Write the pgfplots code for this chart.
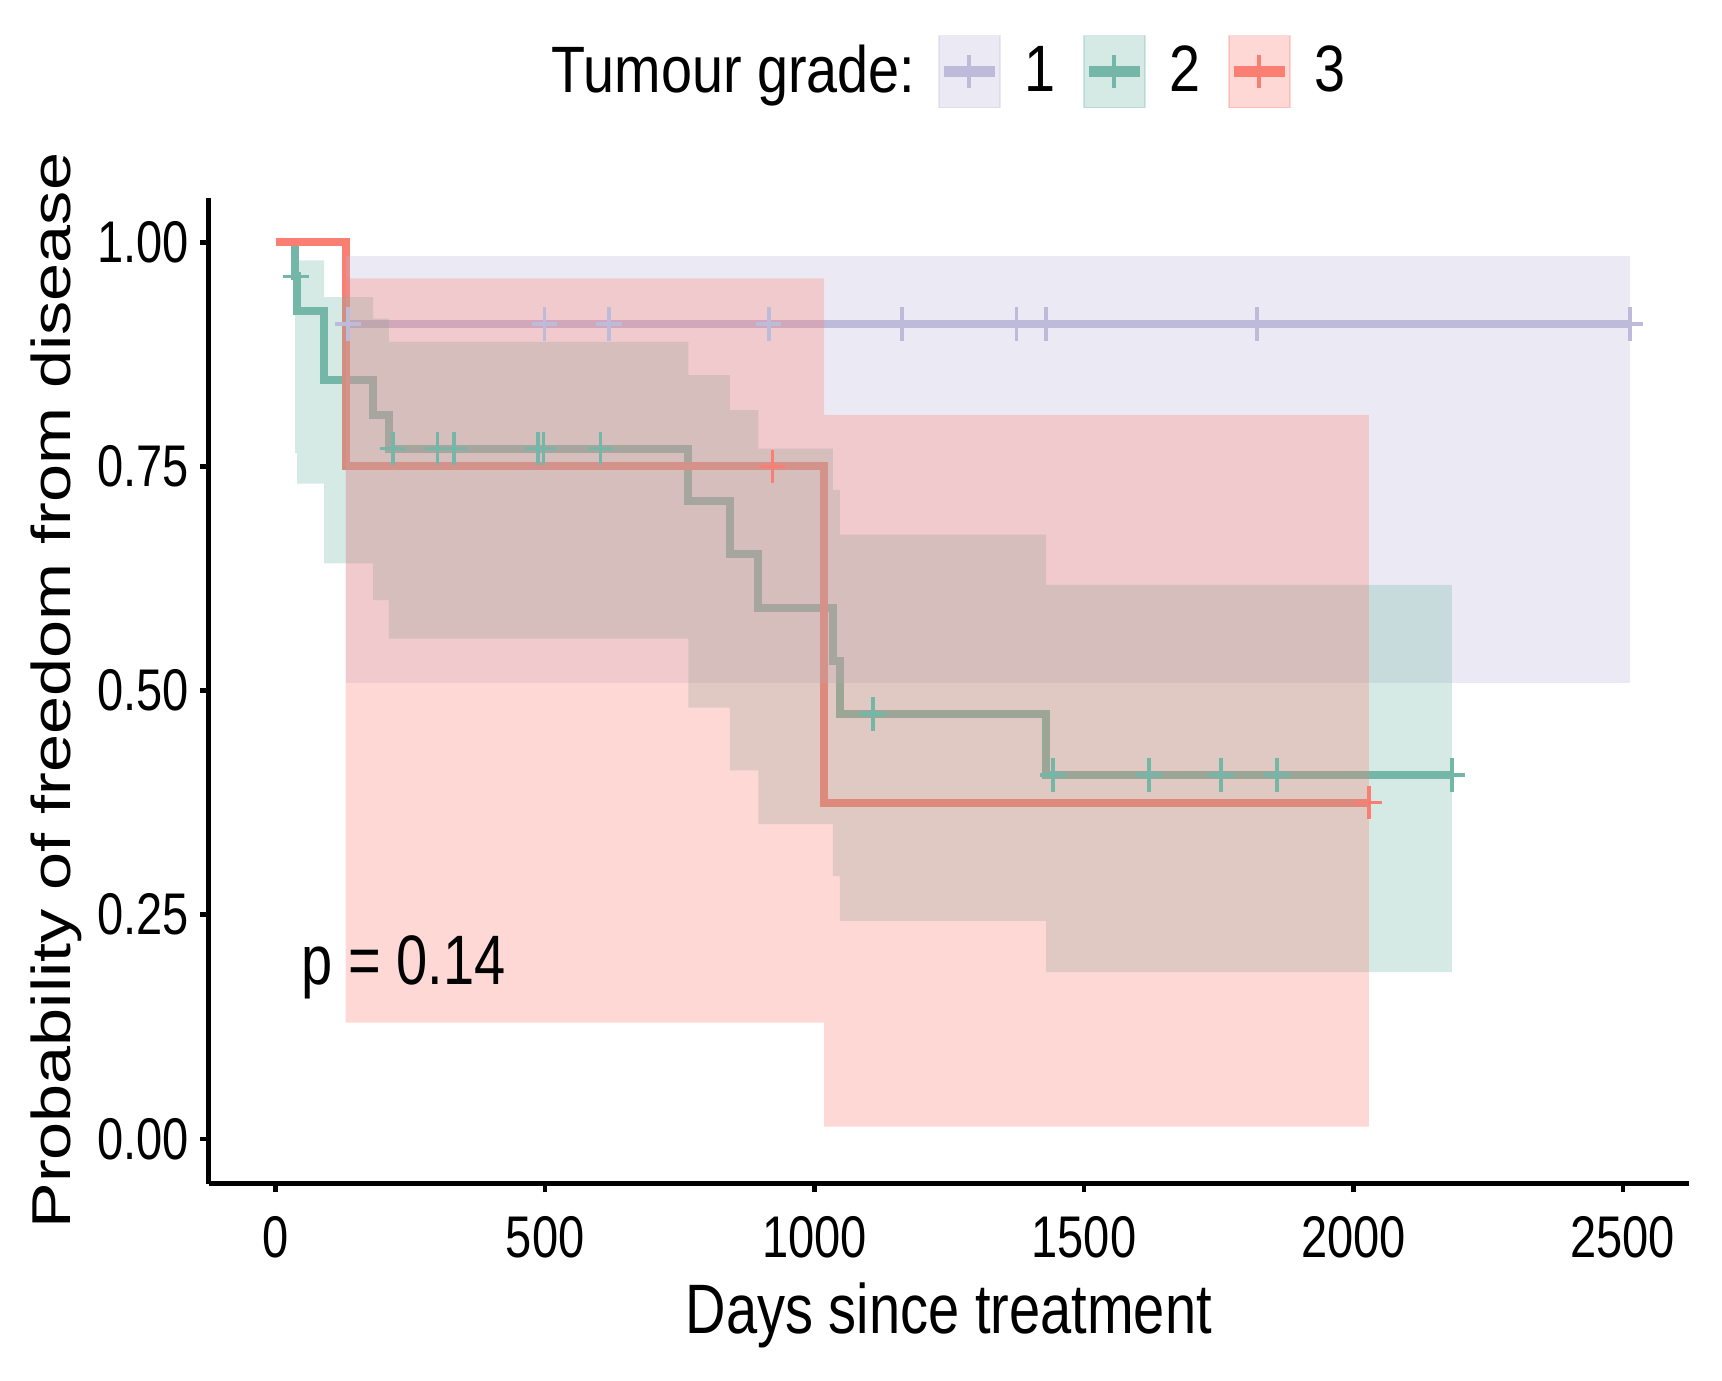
\documentclass[border=0pt]{standalone}
\usepackage{fontspec}
\setmainfont{Liberation Sans}[FakeStretch=0.8]
\newfontfamily\ylabfont{Liberation Sans}
\newfontfamily\legfont{Liberation Sans}[FakeStretch=0.85]
\usepackage{graphicx}
\usepackage{pgfplots}
\pgfplotsset{compat=1.18}

\definecolor{gone}{HTML}{BEBADA}
\definecolor{gtwo}{HTML}{74B7A8}
\definecolor{gthree}{HTML}{FA7F72}

\begin{document}
\begin{tikzpicture}
\begin{axis}[
  name=ax,
  scale only axis,
  width=370.1pt, height=246.5pt,
  xmin=-124.5, xmax=2623, ymin=-0.05, ymax=1.05,
  axis lines*=left,
  axis line style={line width=1.1pt, black},
  tick align=outside,
  major tick length=2.2pt,
  tick style={line width=1.1pt, black},
  xtick={0,500,1000,1500,2000,2500},
  xticklabels={0,500,1000,1500,2000,2500},
  ytick={0,0.25,0.5,0.75,1},
  yticklabels={0.00,0.25,0.50,0.75,1.00},
  tick label style={font=\fontsize{14.7}{16}\selectfont, inner sep=0pt},
  xticklabel style={anchor=north},
  xticklabel shift=5.9pt,
  yticklabel style={anchor=east},
  yticklabel shift=2.5pt,
  xlabel={Days since treatment},
  xlabel style={at={(axis description cs:0.5,-0.1525)}, anchor=base,
    font=\fontsize{17.5}{20}\selectfont, inner sep=0pt},
  ylabel={\ylabfont\scalebox{1}[0.8]{Probability of freedom from disease}},
  ylabel style={at={(axis description cs:-0.0936,0.5)}, anchor=base,
    font=\fontsize{17.1}{19}\selectfont, inner sep=0pt},
  legend columns=-1,
  legend cell align=left,
  legend style={at={(0.5,1)}, anchor=center, yshift=30.5pt, xshift=-3pt,
    draw=none, fill=none, inner sep=0pt,
    font=\legfont\fontsize{16.4}{18}\selectfont,
    nodes={inner sep=0pt},
    /tikz/every odd column/.append style={column sep=5.9pt},
    /tikz/every even column/.append style={column sep=6.9pt}},
]
% legend keys
\addlegendimage{empty legend}
\addlegendentry{Tumour grade:\vphantom{Tg}\hspace*{-1.3pt}}
\addlegendimage{legend image code/.code={
  \path[draw=none, fill=none] (0pt,-11.2pt) rectangle (15.3pt,9pt);
  \fill[gone, opacity=0.3] (0pt,-9pt) rectangle (15.3pt,9pt);
  \draw[gone, line width=2.6pt] (1.2pt,0pt) -- (14.1pt,0pt);
  \draw[gone, line width=1pt] (7.65pt,-4.1pt) -- (7.65pt,4.1pt);}}
\addlegendentry{1\vphantom{Tg}}
\addlegendimage{legend image code/.code={
  \path[draw=none, fill=none] (0pt,-11.2pt) rectangle (15.3pt,9pt);
  \fill[gtwo, opacity=0.3] (0pt,-9pt) rectangle (15.3pt,9pt);
  \draw[gtwo, line width=2.6pt] (1.2pt,0pt) -- (14.1pt,0pt);
  \draw[gtwo, line width=1pt] (7.65pt,-4.1pt) -- (7.65pt,4.1pt);}}
\addlegendentry{2\vphantom{Tg}}
\addlegendimage{legend image code/.code={
  \path[draw=none, fill=none] (0pt,-11.2pt) rectangle (15.3pt,9pt);
  \fill[gthree, opacity=0.3] (0pt,-9pt) rectangle (15.3pt,9pt);
  \draw[gthree, line width=2.6pt] (1.2pt,0pt) -- (14.1pt,0pt);
  \draw[gthree, line width=1pt] (7.65pt,-4.1pt) -- (7.65pt,4.1pt);}}
\addlegendentry{3\vphantom{Tg}}

% survival curves (drawn first, bands lie over them)
\addplot[gone, line width=2pt, const plot, forget plot]
  coordinates {(0,1) (131,0.909) (2513,0.909)};
\addplot[gtwo, line width=2pt, const plot, forget plot]
  coordinates {(0,1) (36,0.962) (40,0.923) (90,0.846) (181,0.808) (210,0.770)
    (766,0.712) (843,0.652) (896,0.592) (1034,0.533) (1047,0.474)
    (1430,0.406) (2183,0.406)};
\addplot[gthree, line width=2pt, const plot, forget plot]
  coordinates {(0,1) (130,0.75) (1018,0.375) (2029,0.375)};

% confidence bands
\addplot[fill=gone, fill opacity=0.3, draw=none, forget plot]
  coordinates {(131,0.985) (2513,0.985) (2513,0.508) (131,0.508)};
\addplot[fill=gtwo, fill opacity=0.3, draw=none, forget plot]
  coordinates {(36,0.98) (90,0.98) (90,0.939) (181,0.939) (181,0.915)
    (210,0.915) (210,0.889) (766,0.889) (766,0.852) (843,0.852) (843,0.813)
    (896,0.813) (896,0.770) (1034,0.770) (1034,0.724) (1047,0.724)
    (1047,0.674) (1430,0.674) (1430,0.618) (2183,0.618)
    (2183,0.186) (1430,0.186) (1430,0.243) (1047,0.243) (1047,0.293)
    (1034,0.293) (1034,0.351) (896,0.351) (896,0.411) (843,0.411)
    (843,0.481) (766,0.481) (766,0.558) (210,0.558) (210,0.601) (181,0.601)
    (181,0.642) (90,0.642) (90,0.731) (40,0.731) (40,0.765) (36,0.765)};
\addplot[fill=gthree, fill opacity=0.3, draw=none, forget plot]
  coordinates {(130,0.96) (1018,0.96) (1018,0.8076) (2029,0.8076)
    (2029,0.0135) (1018,0.0135) (1018,0.1296) (130,0.1296)};

% censoring marks
\addplot[gone, only marks, mark=+, mark size=4.2pt,
  mark options={line width=0.9pt, xscale=0.76}, forget plot]
  coordinates {(134,0.909) (499,0.909) (619,0.909) (915,0.909) (1162,0.909)
    (1375,0.909) (1430,0.909) (1821,0.909) (2513,0.909)};
\addplot[gtwo, only marks, mark=+, mark size=4.2pt,
  mark options={line width=0.9pt, xscale=0.76}, forget plot]
  coordinates {(38,0.962) (218,0.770) (300,0.770) (331,0.770) (487,0.770)
    (497,0.770) (603,0.770) (1108,0.474) (1443,0.406) (1621,0.406)
    (1754,0.406) (1858,0.406) (2183,0.406)};
\addplot[gthree, only marks, mark=+, mark size=4.2pt,
  mark options={line width=0.9pt, xscale=0.76}, forget plot]
  coordinates {(922,0.75) (2029,0.375)};

\node[anchor=base west, inner sep=0pt, font=\fontsize{17.5}{20}\selectfont]
  at (axis cs:47,0.1723) {p = 0.14};
\end{axis}
\pgfresetboundingbox
\path[use as bounding box] ([shift={(-52.15pt,-49.1pt)}]ax.south west)
  rectangle ([shift={(8.25pt,49.4pt)}]ax.north east);
\end{tikzpicture}
\end{document}
